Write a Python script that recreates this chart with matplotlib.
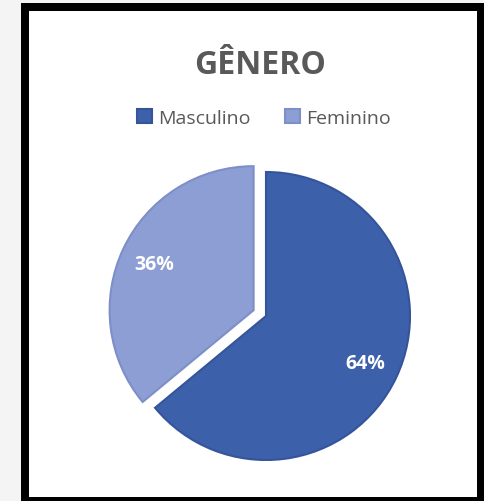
import matplotlib.pyplot as plt
from matplotlib.patches import Rectangle

# dados do gráfico
categorias = ['Masculino', 'Feminino']
valores = [64, 36]
cores = ['#3d60ab', '#8c9ed4']
bordas = ['#35549a', '#7d8fc6']
explodir = [0, 0.095]
titulo = 'GÊNERO'

W, H = 484, 502
fig = plt.figure(figsize=(W / 100, H / 100), dpi=100)
fig.patch.set_facecolor('#f4f4f4')

# moldura preta
fig.patches.append(Rectangle((21 / W, 0), (W - 21) / W, (H - 4) / H,
                             transform=fig.transFigure, facecolor='black',
                             edgecolor='none', zorder=-2))
fig.patches.append(Rectangle((29 / W, 4 / H), (477 - 29) / W, (H - 12 - 4) / H,
                             transform=fig.transFigure, facecolor='white',
                             edgecolor='none', zorder=-1))

plt.rcParams['font.family'] = ['Open Sans', 'DejaVu Sans']

# eixo da pizza: centro (266, 317) px, raio 144 px
cx, cy, r = 266, 317, 144
lim = 1.15
half = r * lim
ax = fig.add_axes([(cx - half) / W, (H - cy - half) / H, 2 * half / W, 2 * half / H])
wedges, textos, autotextos = ax.pie(
    valores, colors=cores, explode=explodir, startangle=90, counterclock=False,
    autopct='%d%%', pctdistance=0.76,
    wedgeprops=dict(linewidth=1.5),
    textprops=dict(color='white', fontsize=14, fontweight='bold'))
for w, b in zip(wedges, bordas):
    w.set_edgecolor(b)
ax.set_xlim(-lim, lim)
ax.set_ylim(-lim, lim)
ax.set_aspect('equal')
ax.axis('off')

fig.text(260 / W, 1 - 65 / H, titulo, ha='center', va='center',
         fontsize=23, fontweight='bold', color='#595959')

fig.legend(wedges, categorias, loc='center', bbox_to_anchor=(264 / W, 1 - 119 / H),
           ncol=2, frameon=False, fontsize=14, handlelength=0.75,
           handleheight=0.75, handletextpad=0.3, columnspacing=1.8,
           labelcolor='#595959')

fig.savefig('out.png', dpi=100)
